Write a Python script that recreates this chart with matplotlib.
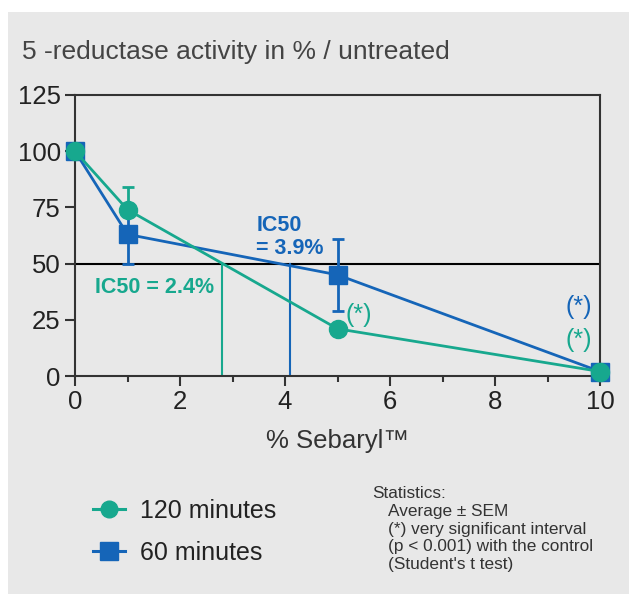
import matplotlib.pyplot as plt
from matplotlib.lines import Line2D
from matplotlib.patches import Rectangle

plt.rcParams["font.family"] = ["Liberation Sans", "DejaVu Sans"]

TEAL = "#17a88e"
BLUE = "#1565b8"
DARK = "#333333"

# data
conc = [0, 1, 5, 10]
act_120 = [100, 74, 21, 2]
err_120_lo = [0, 0, 0, 0]
err_120_hi = [0, 10, 0, 0]
act_60 = [100, 63, 45, 2]
err_60 = [0, 13, 16, 0]
ic50_120 = 2.8
ic50_60 = 4.1
x_ticks = [0, 2, 4, 6, 8, 10]
y_ticks = [0, 25, 50, 75, 100, 125]

fig = plt.figure(figsize=(6.29, 5.94), dpi=100, facecolor="white")
fig.patches.append(Rectangle((8 / 629, 0), 1, 1 - 12 / 594, transform=fig.transFigure,
                             facecolor="#e8e8e8", edgecolor="none", zorder=-10))

ax = fig.add_axes([75 / 629, 218 / 594, 525 / 629, 281 / 594])
ax.set_facecolor("#e8e8e8")

# IC50 guides
ax.axhline(50, color="black", lw=1.5, zorder=1)
ax.plot([ic50_120, ic50_120], [0, 50], color=TEAL, lw=1.5, zorder=1)
ax.plot([ic50_60, ic50_60], [0, 50], color=BLUE, lw=1.5, zorder=1)

eb60 = ax.errorbar(conc, act_60, yerr=err_60, color=BLUE, lw=2, marker="s", ms=12.5,
                   capsize=4, elinewidth=2, capthick=2, zorder=3)
eb120 = ax.errorbar(conc, act_120, yerr=[err_120_lo, err_120_hi], color=TEAL, lw=2,
                    marker="o", ms=13, capsize=4, elinewidth=2, capthick=2, zorder=4)
for eb in (eb60, eb120):
    eb[0].set_clip_on(False)

ax.set_xlim(0, 10)
ax.set_ylim(0, 125)
ax.set_xticks(x_ticks)
ax.set_xticks([1, 3, 5, 7, 9], minor=True)
ax.set_yticks(y_ticks)
ax.tick_params(axis="both", which="both", direction="out", color=DARK, width=1.5,
               labelsize=18.5, labelcolor="#222222", pad=3)
ax.tick_params(axis="both", which="major", length=7.2)
ax.tick_params(axis="x", which="minor", length=4.3)
for s in ax.spines.values():
    s.set_color(DARK)
    s.set_linewidth(1.5)

ax.set_xlabel("% Sebaryl™", fontsize=18.5, color="#333333", labelpad=11)

ax.text(0.38, 39.5, "IC50 = 2.4%", color=TEAL, fontsize=15.5, fontweight="bold", va="center")
ax.text(3.45, 67, "IC50", color=BLUE, fontsize=15.5, fontweight="bold", va="center")
ax.text(3.45, 56.5, "= 3.9%", color=BLUE, fontsize=15.5, fontweight="bold", va="center")
ax.text(5.15, 27, "(*)", color=TEAL, fontsize=18, va="center")
ax.text(9.84, 30.5, "(*)", color=BLUE, fontsize=18, va="center", ha="right")
ax.text(9.84, 16, "(*)", color=TEAL, fontsize=18, va="center", ha="right")

fig.text(22 / 629, 1 - 52 / 594, "5 -reductase activity in % / untreated",
         fontsize=19, color="#444444", va="center")

handles = [
    Line2D([], [], color=TEAL, lw=2.2, marker="o", ms=12),
    Line2D([], [], color=BLUE, lw=2.2, marker="s", ms=12.5),
]
fig.legend(handles, ["120 minutes", "60 minutes"], loc="upper left",
           bbox_to_anchor=(70 / 629, 1 - 476 / 594), frameon=False, fontsize=18,
           handlelength=1.28, handletextpad=0.6, labelspacing=0.72, labelcolor="#222222")

fig.text(372 / 629, 1 - 493 / 594, "Statistics:", fontsize=12.4, color=DARK, va="center")
stats = ["Average ± SEM", "(*) very significant interval",
         "(p < 0.001) with the control", "(Student's t test)"]
for i, line in enumerate(stats):
    fig.text(388 / 629, 1 - (511.5 + 17.6 * i) / 594, line, fontsize=12.4, color=DARK,
             va="center")

fig.savefig("out.png", dpi=100, facecolor=fig.get_facecolor())
